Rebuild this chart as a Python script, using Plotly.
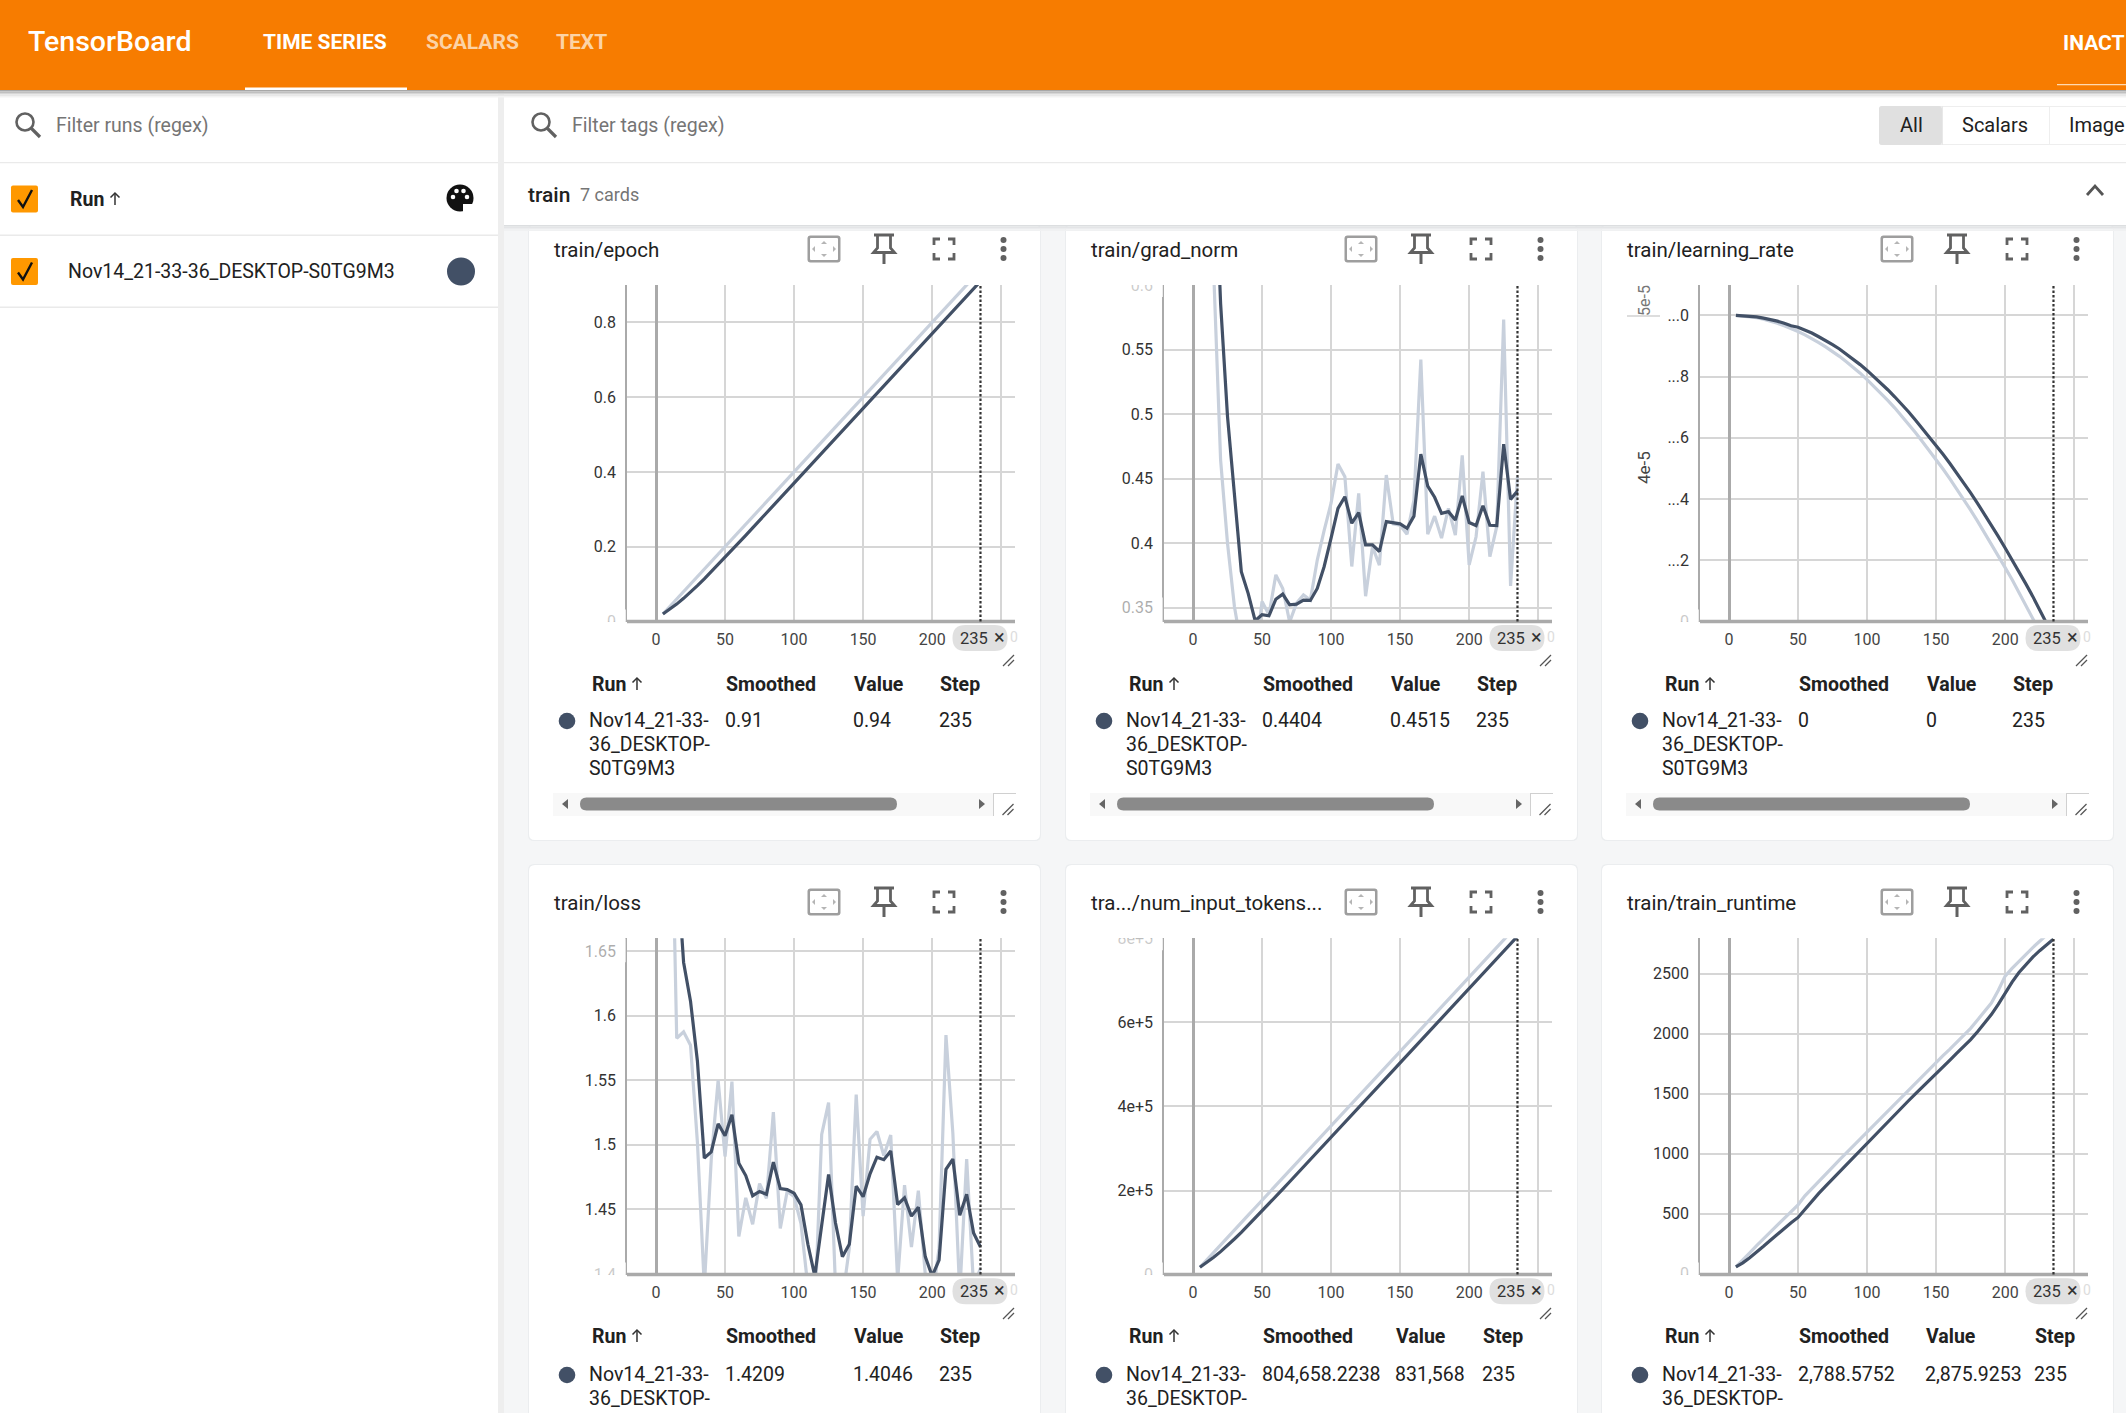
import plotly.graph_objects as go

W, H = 2126, 1413

steps = [5, 10, 15, 20, 25, 30, 35, 40, 45, 50, 55, 60, 65, 70, 75, 80, 85, 90, 95, 100,
         105, 110, 115, 120, 125, 130, 135, 140, 145, 150, 155, 160, 165, 170, 175, 180,
         185, 190, 195, 200, 205, 210, 215, 220, 225, 230, 235]

# values
epoch_raw = [0.02, 0.04, 0.06, 0.08, 0.10, 0.12, 0.14, 0.16, 0.18, 0.20, 0.22, 0.24, 0.26, 0.28, 0.30, 0.32,
             0.34, 0.36, 0.38, 0.40, 0.42, 0.44, 0.46, 0.48, 0.50, 0.52, 0.54, 0.56, 0.58, 0.60, 0.62, 0.64,
             0.66, 0.68, 0.70, 0.72, 0.74, 0.76, 0.78, 0.80, 0.82, 0.84, 0.86, 0.88, 0.90, 0.92, 0.94]
epoch_smooth = [0.02, 0.0325, 0.0465, 0.062, 0.078, 0.096, 0.114, 0.133, 0.152, 0.171, 0.191, 0.2105, 0.2305,
                0.2505, 0.27, 0.29, 0.31, 0.33, 0.35, 0.37, 0.39, 0.41, 0.43, 0.45, 0.47, 0.49, 0.51, 0.53,
                0.55, 0.57, 0.59, 0.61, 0.63, 0.65, 0.67, 0.69, 0.71, 0.73, 0.75, 0.77, 0.79, 0.81, 0.83,
                0.85, 0.87, 0.89, 0.91]

grad_raw = [1.0, 0.85, 0.61, 0.4644, 0.40, 0.351, 0.32, 0.30, 0.31, 0.355, 0.3446, 0.3755, 0.365, 0.339,
            0.3536, 0.36, 0.356, 0.387, 0.41, 0.431, 0.4613, 0.4515, 0.382, 0.4387, 0.359, 0.3974, 0.383,
            0.4528, 0.415, 0.414, 0.407, 0.4335, 0.5423, 0.407, 0.421, 0.404, 0.427, 0.4064, 0.468, 0.3832,
            0.405, 0.4554, 0.3897, 0.413, 0.5732, 0.367, 0.4515]
grad_smooth = [1.0, 0.9, 0.72, 0.5856, 0.498, 0.4387, 0.378, 0.361, 0.34, 0.3446, 0.3438, 0.3567, 0.3606,
               0.3523, 0.3528, 0.356, 0.3557, 0.365, 0.382, 0.4039, 0.427, 0.436, 0.4155, 0.4237, 0.3987,
               0.3987, 0.3936, 0.4168, 0.416, 0.415, 0.4116, 0.421, 0.469, 0.4443, 0.4356, 0.4232, 0.4245,
               0.418, 0.4366, 0.416, 0.4137, 0.4291, 0.4139, 0.4137, 0.4768, 0.434, 0.4404]

# learning rate in units of 1e-5
lr_raw = [5.000, 4.998, 4.995, 4.992, 4.987, 4.981, 4.974, 4.966, 4.957, 4.947, 4.936, 4.924, 4.911, 4.897,
          4.882, 4.866, 4.848, 4.830, 4.811, 4.790, 4.768, 4.746, 4.722, 4.698, 4.672, 4.645, 4.617, 4.588,
          4.559, 4.529, 4.498, 4.466, 4.433, 4.399, 4.364, 4.328, 4.291, 4.253, 4.214, 4.176, 4.137, 4.096,
          4.055, 4.013, 3.970, 3.925, 3.879]
lr_smooth = [5.000, 4.999, 4.997, 4.995, 4.991, 4.987, 4.981, 4.974, 4.966, 4.961, 4.952, 4.942, 4.930, 4.918,
             4.904, 4.890, 4.874, 4.857, 4.839, 4.820, 4.800, 4.779, 4.757, 4.734, 4.710, 4.685, 4.658, 4.631,
             4.603, 4.575, 4.546, 4.516, 4.485, 4.453, 4.420, 4.386, 4.351, 4.315, 4.278, 4.240, 4.202, 4.163,
             4.123, 4.082, 4.039, 3.995, 3.950]

loss_raw = [2.1, 1.85, 1.5826, 1.5876, 1.5772, 1.502, 1.39, 1.4885, 1.55, 1.491, 1.549, 1.429, 1.459, 1.4385,
            1.47, 1.4585, 1.5253, 1.4353, 1.4639, 1.46, 1.439, 1.39, 1.37, 1.508, 1.5327, 1.39, 1.38, 1.42,
            1.539, 1.4448, 1.5043, 1.5103, 1.4918, 1.5076, 1.395, 1.4688, 1.4208, 1.4645, 1.40, 1.38, 1.42,
            1.585, 1.509, 1.385, 1.489, 1.39, 1.4046]
loss_smooth = [2.1, 1.95, 1.72, 1.6413, 1.6113, 1.5649, 1.4898, 1.4945, 1.5163, 1.507, 1.5234, 1.4858, 1.4762,
               1.4606, 1.4639, 1.4617, 1.4866, 1.4661, 1.4653, 1.4626, 1.4535, 1.423, 1.3984, 1.4394, 1.477,
               1.4394, 1.4134, 1.423, 1.468, 1.4598, 1.4776, 1.4904, 1.4885, 1.4953, 1.4538, 1.459, 1.4448,
               1.4516, 1.4134, 1.3984, 1.4107, 1.4811, 1.489, 1.4454, 1.4617, 1.4317, 1.4209]

tokens_raw = [17300, 35400, 53100, 70500, 88000, 105900, 123500, 141300, 159100, 176700, 194200, 212000, 229500,
              247300, 265000, 282800, 300400, 318200, 335900, 353600, 371300, 389000, 406700, 424500, 442000,
              459800, 477500, 495000, 512800, 530500, 548300, 566000, 583600, 601500, 619100, 636800, 654400,
              672200, 689900, 707500, 725200, 743000, 760600, 778300, 796000, 813700, 831568]
tokens_smooth = [17300, 28800, 41200, 54600, 68900, 84700, 100500, 117200, 134300, 151400, 168500, 186000, 203200,
                 220800, 238300, 256000, 273600, 291300, 309000, 326700, 344400, 362100, 379800, 397600, 415100,
                 432900, 450600, 468100, 485900, 503600, 521400, 539100, 556700, 574600, 592200, 609900, 627500,
                 645300, 663000, 680600, 698300, 716100, 733700, 751400, 769100, 786800, 804658]

runtime_raw = [58, 112, 175, 235, 292, 352, 412, 468, 520, 575, 650, 712, 772, 830, 890, 950, 1008, 1068, 1128,
               1185, 1245, 1303, 1362, 1420, 1478, 1535, 1592, 1650, 1706, 1762, 1818, 1872, 1930, 1985, 2045,
               2115, 2185, 2255, 2360, 2480, 2545, 2605, 2662, 2718, 2770, 2822, 2875.9]
runtime_smooth = [58, 92, 135, 180, 230, 280, 330, 380, 425, 470, 540, 605, 670, 730, 790, 852, 912, 972, 1032,
                  1092, 1150, 1210, 1268, 1326, 1385, 1442, 1500, 1558, 1614, 1670, 1726, 1781, 1838, 1892, 1951,
                  2016, 2084, 2160, 2245, 2338, 2430, 2510, 2578, 2638, 2692, 2742, 2788.6]

x_ticks = [0, 50, 100, 150, 200, 250]
x_labels = ["0", "50", "100", "150", "200", ""]

ORANGE = "#f77c00"
DARK = "#425066"
LIGHT = "#c8d0dc"
GRID = "#d6d6d6"
AXIS = "#aaaaaa"
TEXT = "#212121"
ICON = "#616161"
BG = "#f5f6f7"
FONT = "Roboto"

RUN = ["Nov14_21-33-", "36_DESKTOP-", "S0TG9M3"]

cards = [
    dict(title="train/epoch", raw=epoch_raw, smooth=epoch_smooth, yrange=[0, 0.9],
         yticks=[0, 0.2, 0.4, 0.6, 0.8], ylabels=["0", "0.2", "0.4", "0.6", "0.8"],
         vals=("0.91", "0.94"), cols=(724, 852, 938), fade_bottom=True),
    dict(title="train/grad_norm", raw=grad_raw, smooth=grad_smooth, yrange=[0.3394, 0.6],
         yticks=[0.35, 0.4, 0.45, 0.5, 0.55, 0.6], ylabels=["0.35", "0.4", "0.45", "0.5", "0.55", "0.6"],
         vals=("0.4404", "0.4515"), cols=(724, 852, 938), fade_top=True, fade_low=True),
    dict(title="train/learning_rate", raw=lr_raw, smooth=lr_smooth, yrange=[4.0, 5.099],
         yticks=[4.0, 4.2, 4.4, 4.6, 4.8, 5.0], ylabels=["0", "...2", "...4", "...6", "...8", "...0"],
         vals=("0", "0"), cols=(724, 852, 938), fade_bottom=True),
    dict(title="train/loss", raw=loss_raw, smooth=loss_smooth, yrange=[1.3995, 1.66],
         yticks=[1.4, 1.45, 1.5, 1.55, 1.6, 1.65], ylabels=["1.4", "1.45", "1.5", "1.55", "1.6", "1.65"],
         vals=("1.4209", "1.4046"), cols=(724, 852, 938), fade_bottom=True, fade_high=True),
    dict(title="tra.../num_input_tokens...", raw=tokens_raw, smooth=tokens_smooth, yrange=[0, 800000],
         yticks=[0, 200000, 400000, 600000, 800000], ylabels=["0", "2e+5", "4e+5", "6e+5", "8e+5"],
         vals=("804,658.2238", "831,568"), cols=(724, 857, 944), fade_bottom=True, fade_top=True),
    dict(title="train/train_runtime", raw=runtime_raw, smooth=runtime_smooth, yrange=[-6, 2795],
         yticks=[0, 500, 1000, 1500, 2000, 2500], ylabels=["0", "500", "1000", "1500", "2000", "2500"],
         vals=("2,788.5752", "2,875.9253"), cols=(724, 851, 960), fade_bottom=True),
]

col_shift = [0, 537, 1073]
card_left = [529, 1066, 1602]
card_right = [1040, 1577, 2113]
row_top = [285, 938.3]
row_bottom = [621.5, 1274.6]
PLOT_LEFT, PLOT_W = 627, 388


def px(x):
    return x / W


def py(y):
    return 1 - y / H


shapes = []
notes = []


def rect(x0, y0, x1, y1, fill, layer="below", opacity=1):
    shapes.append(dict(type="rect", xref="paper", yref="paper", x0=px(x0), x1=px(x1), y0=py(y0), y1=py(y1),
                       fillcolor=fill, line_width=0, layer=layer, opacity=opacity))


def poly(points, color=None, width=2.5, fill=None, close=False, layer="below", opacity=1):
    d = "M " + " L ".join(f"{px(a):.5f},{py(b):.5f}" for a, b in points) + (" Z" if close else "")
    shapes.append(dict(type="path", xref="paper", yref="paper", path=d, fillcolor=fill or "rgba(0,0,0,0)",
                       line=dict(color=color or "rgba(0,0,0,0)", width=width if color else 0),
                       layer=layer, opacity=opacity))


def circle(cx, cy, r, fill=None, color=None, width=2.5, layer="below"):
    shapes.append(dict(type="circle", xref="paper", yref="paper", x0=px(cx - r), x1=px(cx + r),
                       y0=py(cy - r), y1=py(cy + r), fillcolor=fill or "rgba(0,0,0,0)",
                       line=dict(color=color or "rgba(0,0,0,0)", width=width if color else 0), layer=layer))


def pill(x0, y0, x1, y1, fill, layer="below", r=None):
    r = r if r is not None else min(x1 - x0, y1 - y0) / 2
    x_0, x_1, y_0, y_1 = px(x0), px(x1), py(y0), py(y1)
    rx, ry = r / W, r / H
    d = (f"M {x_0 + rx:.5f},{y_0:.5f} L {x_1 - rx:.5f},{y_0:.5f} Q {x_1:.5f},{y_0:.5f} {x_1:.5f},{y_0 - ry:.5f} "
         f"L {x_1:.5f},{y_1 + ry:.5f} Q {x_1:.5f},{y_1:.5f} {x_1 - rx:.5f},{y_1:.5f} "
         f"L {x_0 + rx:.5f},{y_1:.5f} Q {x_0:.5f},{y_1:.5f} {x_0:.5f},{y_1 + ry:.5f} "
         f"L {x_0:.5f},{y_0 - ry:.5f} Q {x_0:.5f},{y_0:.5f} {x_0 + rx:.5f},{y_0:.5f} Z")
    shapes.append(dict(type="path", xref="paper", yref="paper", path=d, fillcolor=fill, line_width=0, layer=layer))


def text(x, y, s, size=19.5, color=TEXT, anchor="left", weight=None, angle=0):
    font = dict(family=FONT, size=size, color=color)
    if weight:
        font["weight"] = weight
    notes.append(dict(xref="paper", yref="paper", x=px(x), y=py(y), text=s, showarrow=False, xanchor=anchor,
                      yanchor="middle", align="left", borderpad=0, font=font, textangle=angle))


def search_icon(cx, cy):
    circle(cx - 3, cy - 3, 8.5, color=ICON, width=2.6)
    poly([(cx + 3, cy + 3), (cx + 12, cy + 12)], color=ICON, width=3.2)


def checkbox(cy):
    pill(11, cy - 13.5, 38, cy + 13.5, "#ff9800", r=2)
    poly([(18, cy + 1), (23, cy + 8), (32, cy - 9)], color="#111111", width=2.4)


def sort_arrow(cx, cy):
    poly([(cx, cy + 6), (cx, cy - 6)], color="#333333", width=1.5)
    poly([(cx - 4.5, cy - 1.5), (cx, cy - 6), (cx + 4.5, cy - 1.5)], color="#333333", width=1.5)


def card_icons(left, cy):
    ox = left + 295
    pill(ox - 16.5, cy - 13.5, ox + 16.5, cy + 13.5, "#9e9e9e", r=3)
    pill(ox - 14, cy - 11, ox + 14, cy + 11, "#ffffff", r=1)
    for a, b, c in [((ox, cy - 8), (ox - 3, cy - 5), (ox + 3, cy - 5)), ((ox, cy + 8), (ox - 3, cy + 5), (ox + 3, cy + 5)),
                    ((ox - 12, cy), (ox - 9, cy - 3), (ox - 9, cy + 3)), ((ox + 12, cy), (ox + 9, cy - 3), (ox + 9, cy + 3))]:
        poly([a, b, c], fill="#b5b5b5", close=True)
    ox = left + 355
    poly([(ox - 10, cy - 14), (ox + 10, cy - 14)], color=ICON, width=3)
    poly([(ox - 6.5, cy - 14), (ox - 6.5, cy - 1), (ox - 10.5, cy + 3.5), (ox + 10.5, cy + 3.5), (ox + 6.5, cy - 1),
          (ox + 6.5, cy - 14)], color=ICON, width=2.8)
    poly([(ox, cy + 3.5), (ox, cy + 15)], color=ICON, width=3)
    ox = left + 415
    for sx, sy in [(-1, -1), (1, -1), (-1, 1), (1, 1)]:
        poly([(ox + sx * 10, cy + sy * 4), (ox + sx * 10, cy + sy * 10), (ox + sx * 4, cy + sy * 10)],
             color=ICON, width=2.8)
    ox = left + 474.5
    for dy in (-9, 0, 9):
        circle(ox, cy + dy, 3, fill=ICON)


def resize_mark(cx, cy):
    poly([(cx - 6, cy + 6), (cx + 5, cy - 5)], color="#555555", width=1.3)
    poly([(cx - 1, cy + 6), (cx + 5, cy)], color="#555555", width=1.3)


# page background and chrome
rect(0, 0, W, H, "#ffffff")
rect(504, 90, W, H, BG)
rect(498, 90, 504, H, "#eeeeee")

for i, c in enumerate(cards):
    row, col = i // 3, i % 3
    top = 225 if row == 0 else 865
    bottom = 840 if row == 0 else H + 30
    pill(card_left[col] - 1, top - 1, card_right[col] + 1, bottom + 1, "#ebedef", r=6)
    pill(card_left[col], top, card_right[col], bottom, "#ffffff", r=6)

# section header over the first card row
rect(504, 90, W, 225, "#ffffff")
rect(504, 162, W, 163.3, "#eaeaea")
for k, shade in enumerate(["#dcdee0", "#e4e5e7", "#ebecee", "#f0f1f2"]):
    rect(504, 225 + k * 1.5, W, 226.5 + k * 1.5, shade)
rect(0, 162, 498, 163.3, "#eaeaea")
rect(0, 234.5, 498, 236, "#eaeaea")
rect(0, 306.5, 498, 308, "#eaeaea")

rect(0, 0, W, 90, ORANGE)
for k, shade in enumerate(["#a8a8a8", "#c0c0c0", "#d6d6d6", "#e8e8e8", "#f3f3f3"]):
    rect(0, 90 + k * 1.5, W, 91.5 + k * 1.5, shade)
rect(245, 87.5, 407, 90, "#ffffff")
rect(2057, 84, W, 85.2, "#ffd9b0")

text(27, 41, "TensorBoard", size=28.5, color="#ffffff", weight=500)
text(325, 42, "TIME SERIES", size=21, color="#ffffff", anchor="center", weight=700)
text(472, 42, "SCALARS", size=21, color="#fcd3a6", anchor="center", weight=700)
text(581, 42, "TEXT", size=21, color="#fcd3a6", anchor="center", weight=700)
text(2062, 43, "INACT", size=21, color="#ffffff", weight=700)

search_icon(28, 125)
text(55, 126, "Filter runs (regex)", color="#757575")
search_icon(544, 125)
text(571, 126, "Filter tags (regex)", color="#757575")

checkbox(199)
text(69, 199, "Run", size=19.5, weight=700)
sort_arrow(115, 199)
circle(460, 198, 13.5, fill="#111111")
rect(463, 204, 475, 213, "#ffffff")
for dx, dy in [(-7, -1), (-3.5, -7), (3.5, -7), (7, -1)]:
    circle(460 + dx, 198 + dy, 2.3, fill="#ffffff")

checkbox(271.5)
text(67, 271.5, "Nov14_21-33-36_DESKTOP-S0TG9M3")
circle(461, 271.5, 14, fill=DARK)

pill(1879, 106, 2126 + 20, 145, "#eeeeee", r=3)
pill(1880, 107, 2126 + 20, 144, "#ffffff", r=2)
pill(1879, 106, 1942, 145, "#e0e0e0", r=3)
rect(1942, 106, 1943, 145, "#e8e8e8")
rect(2049, 106, 2050, 145, "#eeeeee")
text(1911, 125, "All", size=20, anchor="center")
text(1995, 125, "Scalars", size=20, anchor="center")
text(2068, 125, "Image", size=20)

text(527, 195, "train", size=21, weight=500)
text(579, 195, "7 cards", size=18, color="#757575")
poly([(2087, 195), (2095, 186), (2103, 195)], color="#555555", width=2.8)

layout_axes = {}
fig = go.Figure()

for i, c in enumerate(cards):
    row, col = i // 3, i % 3
    n = "" if i == 0 else str(i + 1)
    xname, yname = f"x{n}", f"y{n}"
    left = PLOT_LEFT + col_shift[col]
    top, bottom = row_top[row], row_bottom[row]
    fig.add_trace(go.Scatter(x=steps, y=c["raw"], mode="lines", line=dict(color=LIGHT, width=3.2), xaxis=xname,
                             yaxis=yname, showlegend=False))
    fig.add_trace(go.Scatter(x=steps, y=c["smooth"], mode="lines", line=dict(color=DARK, width=3.2), xaxis=xname,
                             yaxis=yname, showlegend=False))
    layout_axes[f"xaxis{n}"] = dict(domain=[px(left), px(left + PLOT_W)], range=[-21, 260], anchor=yname,
                                    tickmode="array", tickvals=x_ticks, ticktext=x_labels,
                                    showgrid=True, gridcolor=GRID, gridwidth=2, zeroline=True, zerolinecolor=AXIS,
                                    zerolinewidth=3, showline=False, ticks="outside",
                                    ticklen=3, tickcolor="rgba(0,0,0,0)", tickfont=dict(family=FONT, size=16, color="#444444"))
    layout_axes[f"yaxis{n}"] = dict(domain=[py(bottom), py(top)], range=c["yrange"], anchor=xname,
                                    tickmode="array", tickvals=c["yticks"], ticktext=c["ylabels"], showgrid=True,
                                    gridcolor=GRID, gridwidth=2, zeroline=False, showline=True, linecolor=AXIS,
                                    linewidth=1.5, ticks="outside", ticklen=6, tickcolor="rgba(0,0,0,0)",
                                    tickfont=dict(family=FONT, size=16, color="#333333"))

    # bottom axis line, centred on the plot edge
    shapes.append(dict(type="line", xref=f"{xname} domain", yref=f"{yname} domain", x0=0, x1=1, y0=0, y1=0,
                       line=dict(color=AXIS, width=3.5), layer="above"))

    # dotted marker at the selected step
    shapes.append(dict(type="line", xref=xname, yref=f"{yname} domain", x0=235, x1=235, y0=0, y1=1,
                       line=dict(color="#333333", width=2.2, dash="2.5px,2px"), layer="above"))

    # step chip
    dy = row * 653.2
    x235 = left + (235 + 21) / 281 * PLOT_W
    pill(x235 - 28, 625 + dy, x235 + 27, 651 + dy, "#e0e0e0", layer="above")
    text(x235 - 21, 638 + dy, "235", size=16.5, color="#333333")
    text(x235 + 19, 637 + dy, "×", size=20, color="#333333", anchor="center")
    text(x235 + 29, 637 + dy, "0", size=14, color="#dddddd")

    # faded and clipped tick labels next to the plot edge
    if c.get("fade_bottom"):
        rect(left - 50, bottom, left - 1, bottom + 13, "#ffffff", layer="above")
        rect(left - 50, bottom - 12, left - 1, bottom, "#ffffff", layer="above", opacity=0.75)
    if c.get("fade_top"):
        rect(left - 50, top - 13, left - 1, top, "#ffffff", layer="above")
        rect(left - 50, top, left - 1, top + 12, "#ffffff", layer="above", opacity=0.75)
    if c.get("fade_low"):
        rect(left - 50, bottom - 24, left - 1, bottom + 1, "#ffffff", layer="above", opacity=0.6)
    if c.get("fade_high"):
        rect(left - 50, top, left - 1, top + 24, "#ffffff", layer="above", opacity=0.6)

    cl = card_left[col]
    ty = 250 if row == 0 else 903
    text(cl + 24, ty, c["title"], size=20.5)
    card_icons(cl, ty - 1)

    resize_mark(cl + 480, 660 + row * 653)

    # table under the plot
    y_head, y_val = (684, 720) if row == 0 else (1336, 1374)
    text(cl + 62, y_head, "Run", weight=700)
    sort_arrow(cl + 108, y_head)
    s_x, v_x, st_x = [v + (cl - 529) for v in c["cols"]]
    text(s_x + 1, y_head, "Smoothed", weight=700)
    text(v_x + 1, y_head, "Value", weight=700)
    text(st_x + 1, y_head, "Step", weight=700)
    circle(cl + 38, y_val + 1, 8.3, fill=DARK)
    for k, part in enumerate(RUN):
        if y_val + k * 24 < H:
            text(cl + 59, y_val + k * 24, part)
    text(s_x, y_val, c["vals"][0])
    text(v_x, y_val, c["vals"][1])
    text(st_x, y_val, "235")

    if row == 0:
        rect(cl + 24, 793, cl + 487, 816, "#f8f8f8")
        pill(cl + 51, 797.5, cl + 368, 810.5, "#8a8a8a")
        poly([(cl + 33, 804), (cl + 39, 799), (cl + 39, 809)], fill="#666666", close=True)
        poly([(cl + 456, 804), (cl + 450, 799), (cl + 450, 809)], fill="#666666", close=True)
        rect(cl + 464, 793, cl + 487, 816, "#ffffff")
        rect(cl + 464, 793, cl + 465, 816, "#d0d0d0")
        rect(cl + 464, 793, cl + 487, 794, "#d0d0d0")
        resize_mark(cl + 479.5, 809)

# learning rate axis exponents
text(1644, 468, "4e-5", size=17, color="#444444", anchor="center", angle=-90)
text(1644, 301, "5e-5", size=16, color="#777777", anchor="center", angle=-90)
rect(1627, 315.5, 1660, 316.5, "#bbbbbb")

fig.update_layout(width=W, height=H, margin=dict(l=0, r=0, t=0, b=0, autoexpand=False), paper_bgcolor="#ffffff",
                  plot_bgcolor="#ffffff", showlegend=False, shapes=shapes, annotations=notes,
                  font=dict(family=FONT), **layout_axes)

# pin the graph to the page corner, the default body margin would shift it
pin = ("document.body.style.margin='0';document.documentElement.style.overflow='hidden';"
       "var gd=document.getElementById('{plot_id}');gd.style.position='absolute';gd.style.left='0';gd.style.top='0';")
fig.write_html("out.html", config=dict(displayModeBar=False), post_script=pin)
